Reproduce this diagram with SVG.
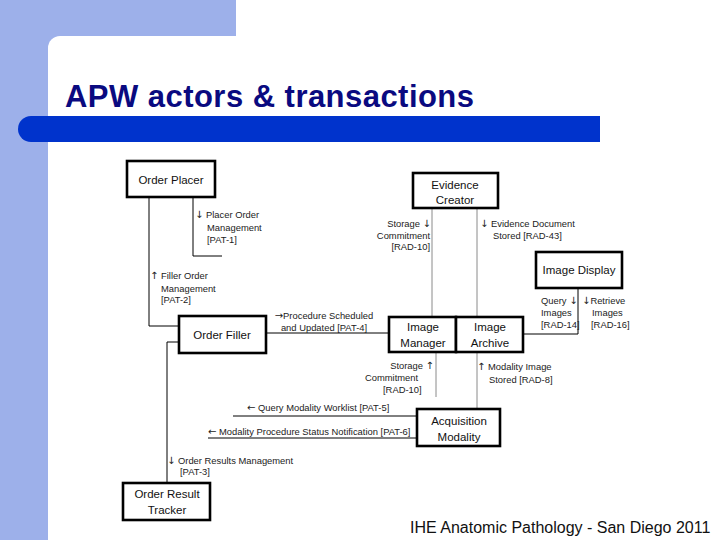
<svg xmlns="http://www.w3.org/2000/svg" width="720" height="540" viewBox="0 0 720 540">
<style>
.box{fill:#fff;stroke:#000;stroke-width:2.6}
.bt{font-family:"Liberation Sans",Arial,sans-serif;font-size:11.5px;fill:#111;text-anchor:middle}
.lb{font-family:"Liberation Sans",Arial,"DejaVu Sans",sans-serif;font-size:9.4px;fill:#222}
.ar{font-family:"DejaVu Sans",sans-serif;font-size:10px}
.ln{fill:none;stroke:#000;stroke-width:1}
.lg{fill:none;stroke:#8a8a8a;stroke-width:1}
</style>
<rect width="720" height="540" fill="#fff"/>
<rect x="0" y="0" width="236" height="60" fill="#9db0ea"/>
<rect x="0" y="0" width="48" height="540" fill="#9db0ea"/>
<rect x="48" y="36" width="700" height="600" rx="12" fill="#fff"/>
<path d="M600 116 H31 A13 13 0 0 0 31 142 H600 Z" fill="#0033cc"/>
<text x="65" y="107" font-family="Liberation Sans,Arial,sans-serif" font-size="31" font-weight="bold" fill="#0a0a80" textLength="409">APW actors &amp; transactions</text>

<g id="connectors">
<path class="ln" d="M149 197 V326 H179"/>
<path class="ln" d="M193 197 V256 H222"/>
<path class="ln" d="M179 342 H167 V483"/>
<path class="ln" d="M266 333 H389"/>
<path class="lg" d="M432 207 V317"/>
<path class="lg" d="M477 207 V317"/>
<path class="ln" d="M578 288 V334 H523"/>
<path class="lg" d="M436 352 V397"/>
<path class="lg" d="M477 352 V409"/>
<path class="ln" d="M233 416 H417"/>
<path class="ln" d="M208 438 H417"/>
</g>

<g id="order-placer"><rect class="box" x="127" y="161" width="88" height="36"/><text class="bt" x="171" y="184">Order Placer</text></g>
<g id="evidence-creator"><rect class="box" x="413" y="173" width="85" height="35"/><text class="bt" x="455" y="189">Evidence</text><text class="bt" x="455" y="204">Creator</text></g>
<g id="image-display"><rect class="box" x="536" y="252" width="86" height="36"/><text class="bt" x="579" y="274">Image Display</text></g>
<g id="order-filler"><rect class="box" x="179" y="316" width="87" height="37"/><text class="bt" x="222" y="339">Order Filler</text></g>
<g id="image-manager"><rect class="box" x="389" y="317" width="67" height="35"/><text class="bt" x="423" y="331">Image</text><text class="bt" x="423" y="347">Manager</text></g>
<g id="image-archive"><rect class="box" x="456" y="317" width="67" height="35"/><text class="bt" x="490" y="331">Image</text><text class="bt" x="490" y="347">Archive</text></g>
<g id="acquisition-modality"><rect class="box" x="417" y="409" width="83" height="37"/><text class="bt" x="459" y="425">Acquisition</text><text class="bt" x="459" y="441">Modality</text></g>
<g id="order-result-tracker"><rect class="box" x="123" y="483" width="87" height="37"/><text class="bt" x="167" y="498">Order Result</text><text class="bt" x="167" y="514">Tracker</text></g>

<g id="labels">
<text class="lb" x="195" y="218"><tspan class="ar">↓</tspan> Placer Order</text>
<text class="lb" x="207" y="231">Management</text>
<text class="lb" x="207" y="243">[PAT-1]</text>
<text class="lb" x="150" y="279"><tspan class="ar">↑</tspan> Filler Order</text>
<text class="lb" x="161" y="292">Management</text>
<text class="lb" x="161" y="303">[PAT-2]</text>
<text class="lb" x="324" y="319" text-anchor="middle"><tspan class="ar">→</tspan>Procedure Scheduled</text>
<text class="lb" x="324" y="331" text-anchor="middle">and Updated [PAT-4]</text>
<text class="lb" x="431" y="227" text-anchor="end">Storage <tspan class="ar">↓</tspan></text>
<text class="lb" x="430" y="239" text-anchor="end">Commitment</text>
<text class="lb" x="430" y="250" text-anchor="end">[RAD-10]</text>
<text class="lb" x="480" y="227"><tspan class="ar">↓</tspan> Evidence Document</text>
<text class="lb" x="493" y="239">Stored [RAD-43]</text>
<text class="lb" x="541" y="304">Query <tspan class="ar">↓</tspan></text>
<text class="lb" x="541" y="316">Images</text>
<text class="lb" x="541" y="328">[RAD-14]</text>
<text class="lb" x="582" y="304"><tspan class="ar">↓</tspan>Retrieve</text>
<text class="lb" x="592" y="316">Images</text>
<text class="lb" x="591" y="328">[RAD-16]</text>
<text class="lb" x="434" y="369" text-anchor="end">Storage <tspan class="ar">↑</tspan></text>
<text class="lb" x="365" y="381">Commitment</text>
<text class="lb" x="383" y="393">[RAD-10]</text>
<text class="lb" x="477" y="370"><tspan class="ar">↑</tspan> Modality Image</text>
<text class="lb" x="489" y="383">Stored [RAD-8]</text>
<text class="lb" x="247" y="411"><tspan class="ar">←</tspan> Query Modality Worklist [PAT-5]</text>
<text class="lb" x="208" y="435"><tspan class="ar">←</tspan> Modality Procedure Status Notification [PAT-6]</text>
<text class="lb" x="167" y="464"><tspan class="ar">↓</tspan> Order Results Management</text>
<text class="lb" x="180" y="475">[PAT-3]</text>
</g>
<text x="410" y="533" font-family="Liberation Sans,Arial,sans-serif" font-size="16" fill="#111">IHE Anatomic Pathology - San Diego 2011</text>
</svg>
